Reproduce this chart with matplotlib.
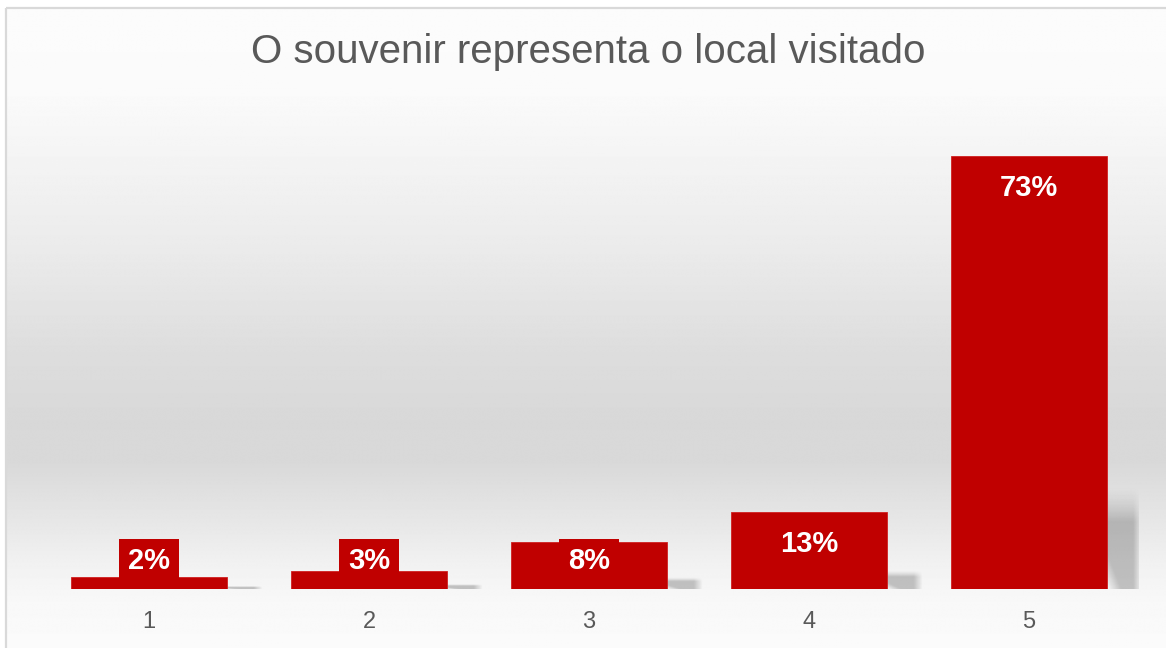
import matplotlib.pyplot as plt
from matplotlib.patches import Rectangle
import numpy as np

plt.rcParams['font.family'] = ['Liberation Sans', 'DejaVu Sans']

# Data
categories = ['1', '2', '3', '4', '5']
values = [2, 3, 8, 13, 73]
labels = ['2%', '3%', '8%', '13%', '73%']
title = 'O souvenir representa o local visitado'

RED = '#C00000'
W, H = 1166, 648

fig = plt.figure(figsize=(W / 100, H / 100), dpi=100)
fig.patch.set_facecolor('white')

# background gradient (white -> gray -> white) and chart border
bg = fig.add_axes([0, 0, 1, 1], zorder=0)
bg.set_xlim(0, W)
bg.set_ylim(H, 0)
bg.axis('off')
ys = np.arange(H)
stops_y = [0, 90, 150, 250, 350, 420, 460, 520, 560, 600, 648]
stops_v = [252, 250, 244, 234, 221, 216, 217, 231, 241, 248, 251]
grad = np.interp(ys, stops_y, stops_v)[:, None] * np.ones((1, 4))
bg.imshow(grad, extent=(6, W, H, 8), cmap='gray', vmin=0, vmax=255,
          aspect='auto', interpolation='bilinear')
bg.plot([6, 6], [H, 8], color='#d9d9d9', lw=1.6, solid_capstyle='butt')
bg.plot([6, W], [8, 8], color='#d9d9d9', lw=1.6, solid_capstyle='butt')

# title
fig.text(588 / W, 1 - 52 / H, title, ha='center', va='center',
         fontsize=29, color='#595959')

# plot area
ax = fig.add_axes([39 / W, 59 / H, 1100 / W, 474 / H], zorder=1)
ax.patch.set_visible(False)
for s in ax.spines.values():
    s.set_visible(False)
ax.set_xlim(-0.5, 4.5)
ax.set_ylim(0, 80)
ax.set_yticks([])

x = np.arange(len(categories))
bw = 0.71

# soft shadows at the bottom right of each bar
ny, nx = 80, 50
yy, xx = np.mgrid[0:ny, 0:nx]
yf = 1 - yy / (ny - 1)      # 0 at bottom, 1 at top
xf = xx / (nx - 1)
fade_top = np.clip((1 - yf) / 0.35, 0, 1) ** 1.5
fade_right = np.clip((1 - xf) / 0.25, 0, 1)
fade_corner = np.clip((xf + yf * 1.2) / 0.4, 0, 1)
alpha = 0.22 * fade_top * fade_right * fade_corner
shadow = np.zeros((ny, nx, 4))
shadow[..., 3] = alpha
for xi, v in zip(x, values):
    sh = 0.24 * v
    ax.imshow(shadow, extent=(xi + bw / 2, xi + bw / 2 + 0.16, 0, sh),
              aspect='auto', interpolation='bilinear', zorder=1)

ax.bar(x, values, width=bw, color=RED, edgecolor='#d02020', linewidth=0.6, zorder=2)

# value labels (inside end, with red box)
for xi, v, lab in zip(x, values, labels):
    ty = max(v - 5.4, 4.7)
    bwid = 0.273 if len(lab) < 3 else 0.33
    ax.add_patch(Rectangle((xi - bwid / 2, ty - 3.7), bwid, 7.4,
                           facecolor=RED, edgecolor='none', zorder=3))
    ax.text(xi, ty, lab, ha='center', va='center', color='white',
            fontsize=21, fontweight='bold', zorder=4)

ax.set_xticks(x)
ax.set_xticklabels(categories, fontsize=17, color='#595959')
ax.tick_params(axis='x', length=0, pad=16)
ax.set_xlim(-0.5, 4.5)
ax.set_ylim(0, 80)

fig.savefig('out.png', dpi=100)
